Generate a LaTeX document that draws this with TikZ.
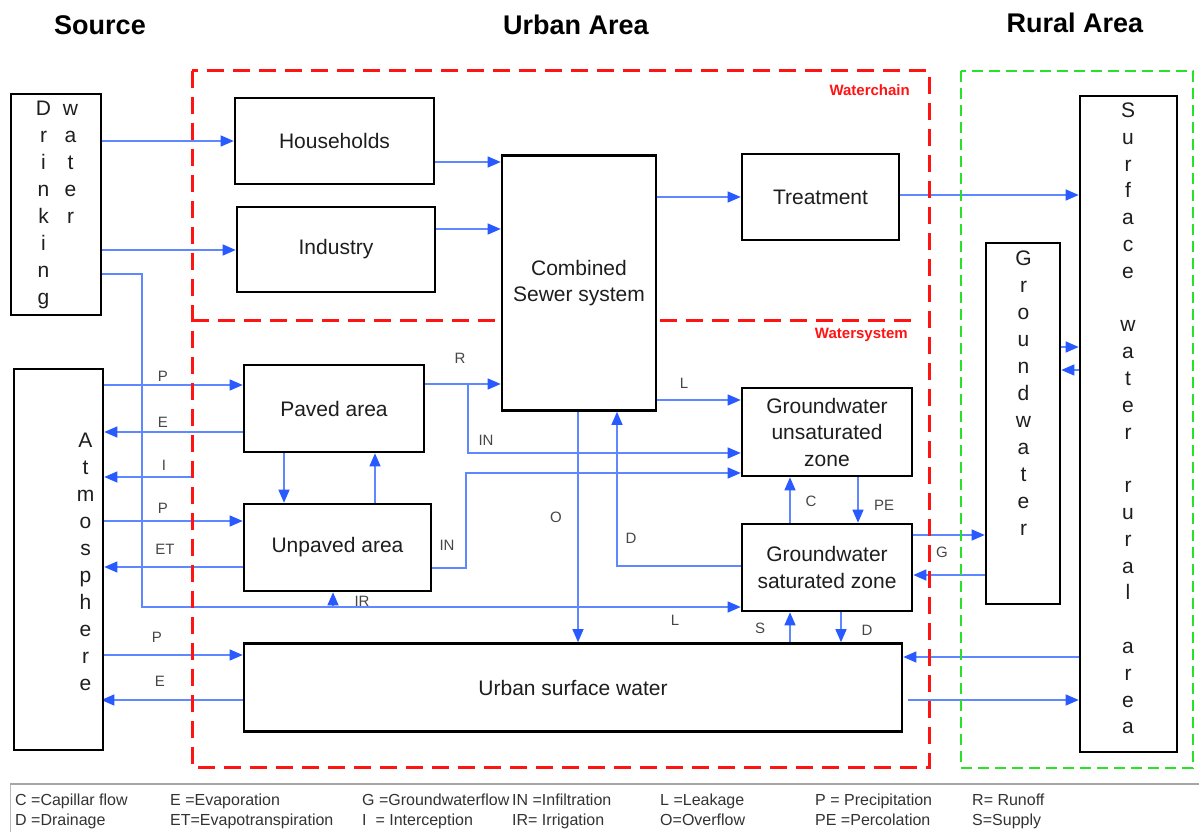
\documentclass[tikz,border=0pt]{standalone}
\usepackage{fontspec}
\setmainfont{Liberation Sans}
\usetikzlibrary{arrows.meta,calc}
\definecolor{lineblue}{RGB}{95,135,255}
\definecolor{tipblue}{RGB}{40,90,255}
\definecolor{txt}{RGB}{30,30,30}
\definecolor{labc}{RGB}{70,70,70}
\definecolor{legc}{RGB}{50,50,50}
\definecolor{redf}{RGB}{255,20,20}
\definecolor{greenf}{RGB}{40,225,40}
\pgfdeclarelayer{conn}
\pgfdeclarelayer{frame}
\pgfsetlayers{conn,frame,main}
\begin{document}
\begin{tikzpicture}[x=1pt,y=-1pt,
  box/.style={draw=black, line width=2.6pt, fill=white, inner sep=0pt, align=center, text=txt, font=\fontsize{21}{26.5}\selectfont},
  lettercol/.style={font=\fontsize{21}{27}\selectfont, align=center, inner sep=0pt, anchor=north, text=txt},
  conn/.style={draw=lineblue, line width=1.2pt, -{Triangle[length=13pt,width=11pt,color=tipblue]}},
  plain/.style={draw=lineblue, line width=1.2pt},
  lab/.style={font=\fontsize{15}{17}\selectfont, text=labc, inner sep=0pt},
  title/.style={font=\fontsize{27}{30}\selectfont\bfseries, text=black, inner sep=0pt},
  redlab/.style={font=\fontsize{15}{17}\selectfont\bfseries, text=redf, inner sep=0pt},
  leg/.style={font=\fontsize{16}{18}\selectfont, text=legc, inner sep=0pt, anchor=base west},
  redframe/.style={draw=redf, line width=3pt, dash pattern=on 17pt off 9pt},
  greenframe/.style={draw=greenf, line width=2pt, dash pattern=on 11pt off 6pt}
]
\useasboundingbox (0,0) rectangle (1199,832);

% titles
\node[title] (tsrc) at (100,25) {Source};
\node[title] (turb) at (576,25) {Urban Area};
\node[title] (trur) at (1075,23) {Rural Area};

% frames
\begin{pgfonlayer}{frame}
\draw[redframe] (192,71) rectangle (929,767);
\draw[redframe] (192,320) -- (918,320);
\draw[greenframe] (961,71) rectangle (1193,768);
\end{pgfonlayer}
\node[redlab, anchor=east] (wc) at (910,90) {Waterchain};
\node[redlab, anchor=east] (ws) at (908,335) {Watersystem};

% boxes
\node[box, minimum width=90, minimum height=221] (dw) at (56,204.5) {};
\node[box, minimum width=89, minimum height=381] (atm) at (58.5,559.5) {};
\node[box, minimum width=199, minimum height=86] (hh) at (334.5,141) {Households};
\node[box, minimum width=198, minimum height=85] (ind) at (336,249.5) {Industry};
\node[box, minimum width=154, minimum height=255] (sew) at (579,283) {Combined\\Sewer system};
\node[box, minimum width=157, minimum height=86] (tr) at (820.5,197) {Treatment};
\node[box, minimum width=180, minimum height=87] (pav) at (334,408.5) {Paved area};
\node[box, minimum width=187, minimum height=87] (unp) at (337.5,547.5) {Unpaved area};
\node[box, minimum width=170, minimum height=88] (gwu) at (827,432) {Groundwater\\unsaturated\\zone};
\node[box, minimum width=170, minimum height=87] (gws) at (827,567.5) {Groundwater\\saturated zone};
\node[box, minimum width=658, minimum height=88] (usw) at (573,687.5) {Urban surface water};
\node[box, minimum width=74, minimum height=361] (gwr) at (1023,423.5) {};
\node[box, minimum width=97, minimum height=656] (swr) at (1128.5,424) {};

% vertical letter columns
\node[lettercol] (dwa) at (43.5,96) {\strut D\\r\\i\\n\\k\\i\\n\\g};
\node[lettercol] (dwb) at (70.5,96) {\strut w\\a\\t\\e\\r};
\node[lettercol] (atmt) at (85.5,428) {\strut A\\t\\m\\o\\s\\p\\h\\e\\r\\e};
\node[lettercol] (gwrt) at (1023.5,246.5) {\strut G\\r\\o\\u\\n\\d\\w\\a\\t\\e\\r};
\node[lettercol, font=\fontsize{21}{26.8}\selectfont] (swrt) at (1128,98.5) {\strut S\\u\\r\\f\\a\\c\\e\\[26.8pt] w\\a\\t\\e\\r\\[26.8pt] r\\u\\r\\a\\l\\[26.8pt] a\\r\\e\\a};

% named free ends
\coordinate (dwturn) at (142,607);
\coordinate (irb) at (333,607);
\coordinate (icpt) at (192,477);
\coordinate (rbr) at (468,384);
\coordinate (inb) at (466,568);

\begin{pgfonlayer}{conn}
% drinking water
\draw[conn] (dw.east |- hh.west) -- (hh.west);
\draw[conn] (dw.east |- 0,250) -- (ind.west |- 0,250);
\draw[conn] (dw.east |- 0,274) -| (dwturn) -- (gws.west |- dwturn);
\draw[conn] (irb) -- (irb |- unp.south);
% waterchain
\draw[conn] (hh.east |- 0,162) -- (sew.west |- 0,162);
\draw[conn] (ind.east |- 0,229) -- (sew.west |- 0,229);
\draw[conn] (sew.east |- tr.west) -- (tr.west);
\draw[conn] (tr.east |- 0,195) -- (swr.west |- 0,195);
% atmosphere
\draw[conn] (atm.east |- 0,385) -- (pav.west |- 0,385);
\draw[conn] (pav.west |- 0,432) -- (atm.east |- 0,432);
\draw[conn] (icpt) -- (atm.east |- icpt);
\draw[conn] (atm.east |- 0,521) -- (unp.west |- 0,521);
\draw[conn] (unp.west |- 0,567) -- (atm.east |- 0,567);
\draw[conn] (atm.east |- 0,655) -- (usw.west |- 0,655);
\draw[conn] (usw.west |- 0,700) -- ($(atm.east |- 0,700)+(-3,0)$);
% paved / unpaved
\draw[conn] (pav.south -| 284,0) -- (unp.north -| 284,0);
\draw[conn] (unp.north -| 375,0) -- (pav.south -| 375,0);
\draw[conn] (pav.east |- rbr) -- (sew.west |- rbr);
\draw[conn] (rbr) |- (gwu.west |- 0,453);
\draw[conn] (unp.east |- inb) -- (inb) |- (gwu.west |- 0,473);
% sewer
\draw[conn] (sew.east |- 0,400) -- (gwu.west |- 0,400);
\draw[conn] (sew.south -| 578,0) -- (usw.north -| 578,0);
\draw[conn] (gws.west |- 0,566) -| (sew.south -| 617,0);
% groundwater
\draw[conn] (gws.north -| 790,0) -- (gwu.south -| 790,0);
\draw[conn] (gwu.south -| 858,0) -- (gws.north -| 858,0);
\draw[conn] (usw.north -| 790,0) -- (gws.south -| 790,0);
\draw[conn] (gws.south -| 841,0) -- (usw.north -| 841,0);
\draw[conn] (gws.east |- 0,535) -- (gwr.west |- 0,535);
\draw[conn] (gwr.west |- 0,575) -- (gws.east |- 0,575);
\draw[conn] (gwr.east |- 0,347) -- (swr.west |- 0,347);
\draw[conn] (swr.west |- 0,370) -- (gwr.east |- 0,370);
\draw[conn] (swr.west |- 0,657) -- (usw.east |- 0,657);
\draw[conn] ($(usw.east |- 0,700)+(5,0)$) -- (swr.west |- 0,700);
\end{pgfonlayer}

% labels
\node[lab] (lP1) at (163,376) {P};
\node[lab] (lE1) at (163,422) {E};
\node[lab] (lI) at (164,465) {I};
\node[lab] (lP2) at (163,508) {P};
\node[lab] (lET) at (165,549) {ET};
\node[lab] (lP3) at (157,637) {P};
\node[lab] (lE2) at (160,681) {E};
\node[lab] (lR) at (460,358) {R};
\node[lab] (lIN1) at (486,440) {IN};
\node[lab] (lIN2) at (447,545) {IN};
\node[lab] (lIR) at (362,601) {IR};
\node[lab] (lL1) at (684,383) {L};
\node[lab] (lO) at (556,517) {O};
\node[lab] (lD1) at (631,538) {D};
\node[lab] (lC) at (811,501) {C};
\node[lab] (lPE) at (884,505) {PE};
\node[lab] (lG) at (942,552) {G};
\node[lab] (lL2) at (675,620) {L};
\node[lab] (lS) at (760,628) {S};
\node[lab] (lD2) at (867,630) {D};

% legend
\draw[draw=gray!55, line width=1pt] (10,784) rectangle (1215,850);
\draw[draw=gray!70, line width=2pt] (10,784) -- (1199,784);
\node[leg] (g1a) at (15,805) {C =Capillar flow};
\node[leg] (g1b) at (15,825) {D =Drainage};
\node[leg] (g2a) at (170,805) {E =Evaporation};
\node[leg] (g2b) at (170,825) {ET=Evapotranspiration};
\node[leg] (g3a) at (362,805) {G =Groundwaterflow};
\node[leg] (g3b) at (362,825) {I \ = Interception};
\node[leg] (g4a) at (512,805) {IN =Infiltration};
\node[leg] (g4b) at (512,825) {IR= Irrigation};
\node[leg] (g5a) at (660,805) {L =Leakage};
\node[leg] (g5b) at (660,825) {O=Overflow};
\node[leg] (g6a) at (815,805) {P = Precipitation};
\node[leg] (g6b) at (815,825) {PE =Percolation};
\node[leg] (g7a) at (972,805) {R= Runoff};
\node[leg] (g7b) at (972,825) {S=Supply};
\end{tikzpicture}
\end{document}
